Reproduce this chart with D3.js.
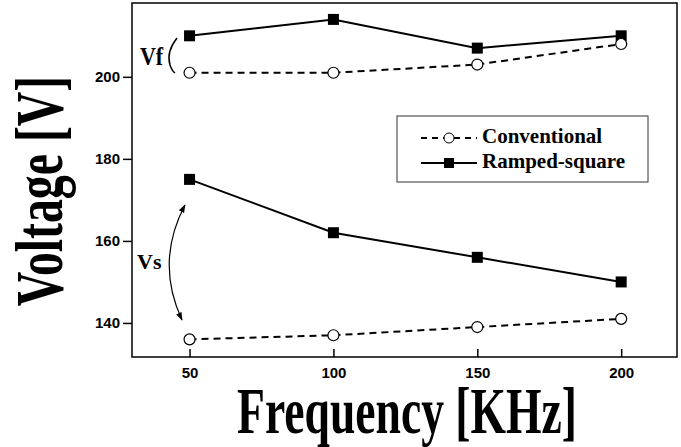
<!DOCTYPE html>
<html>
<head>
<meta charset="utf-8">
<script src="https://cdn.jsdelivr.net/npm/d3@7"></script>
<style>
  body { margin: 0; background: #fff; }
  svg { display: block; }
</style>
</head>
<body>
<div id="chart"></div>
<script>
// data
var freqs  = [50, 100, 150, 200];
var convVf = [201, 201, 203, 208];
var rampVf = [210, 214, 207, 210];
var convVs = [136, 137, 139, 141];
var rampVs = [175, 162, 156, 150];
var xTicks = [50, 100, 150, 200];
var yTicks = [140, 160, 180, 200];

var W = 681, H = 447;
var margin = {top: 3, right: 4, bottom: 90, left: 132};

var svg = d3.select('#chart').append('svg')
    .attr('width', W)
    .attr('height', H);

var x = d3.scaleLinear().domain([30, 219.4]).range([margin.left, W - margin.right]);
var y = d3.scaleLinear().domain([131.7, 218]).range([H - margin.bottom, margin.top]);

var tickFont = 'Liberation Sans, Arial, sans-serif';
var serif = 'Liberation Serif, Times New Roman, serif';

// axes
var gx = svg.append('g')
    .attr('transform', 'translate(0,' + y.range()[0] + ')')
    .call(d3.axisBottom(x).tickValues(xTicks).tickSize(-8).tickPadding(10));
var gy = svg.append('g')
    .attr('transform', 'translate(' + x.range()[0] + ',0)')
    .call(d3.axisLeft(y).tickValues(yTicks).tickSize(9).tickPadding(3));

[gx, gy].forEach(function(g){
    g.select('.domain').remove();
    g.selectAll('line').attr('stroke', '#000').attr('stroke-width', 1.5);
    g.selectAll('text')
        .attr('fill', '#000')
        .style('font-family', tickFont)
        .style('font-weight', 'bold')
        .style('font-size', '15px');
});

// frame
svg.append('rect')
    .attr('x', x.range()[0])
    .attr('y', y.range()[1])
    .attr('width', x.range()[1] - x.range()[0])
    .attr('height', y.range()[0] - y.range()[1])
    .attr('fill', 'none')
    .attr('stroke', '#000')
    .attr('stroke-width', 1.5);

// series
var series = [
    {vals: rampVf, dash: null, mark: 'square'},
    {vals: convVf, dash: '7,5', mark: 'circle'},
    {vals: rampVs, dash: null, mark: 'square'},
    {vals: convVs, dash: '7,5', mark: 'circle'}
];

var line = d3.line()
    .x(function(d){ return x(d.f); })
    .y(function(d){ return y(d.v); });

series.forEach(function(s){
    var pts = freqs.map(function(f, i){ return {f: f, v: s.vals[i]}; });
    svg.append('path')
        .datum(pts)
        .attr('d', line)
        .attr('fill', 'none')
        .attr('stroke', '#000')
        .attr('stroke-width', 2)
        .attr('stroke-dasharray', s.dash);
    if (s.mark === 'square') {
        svg.selectAll(null).data(pts).enter().append('rect')
            .attr('x', function(d){ return x(d.f) - 5.5; })
            .attr('y', function(d){ return y(d.v) - 5.5; })
            .attr('width', 11).attr('height', 11)
            .attr('fill', '#000');
    } else {
        svg.selectAll(null).data(pts).enter().append('circle')
            .attr('cx', function(d){ return x(d.f); })
            .attr('cy', function(d){ return y(d.v); })
            .attr('r', 5.5)
            .attr('fill', '#fff')
            .attr('stroke', '#000')
            .attr('stroke-width', 1.2);
    }
});

// legend
var leg = svg.append('g').attr('transform', 'translate(397,116)');
leg.append('rect')
    .attr('width', 251).attr('height', 66)
    .attr('fill', '#fff')
    .attr('stroke', '#333')
    .attr('stroke-width', 1);
var legItems = [
    {label: 'Conventional', dash: '6,5', mark: 'circle', cy: 22},
    {label: 'Ramped-square', dash: null, mark: 'square', cy: 47}
];
legItems.forEach(function(it){
    leg.append('line')
        .attr('x1', 24).attr('x2', 80)
        .attr('y1', it.cy).attr('y2', it.cy)
        .attr('stroke', '#000')
        .attr('stroke-width', 2)
        .attr('stroke-dasharray', it.dash);
    if (it.mark === 'circle') {
        leg.append('circle').attr('cx', 52).attr('cy', it.cy).attr('r', 5)
            .attr('fill', '#fff').attr('stroke', '#000').attr('stroke-width', 1);
    } else {
        leg.append('rect').attr('x', 47).attr('y', it.cy - 5)
            .attr('width', 10).attr('height', 10).attr('fill', '#000');
    }
    leg.append('text')
        .attr('x', 85).attr('y', it.cy + 5)
        .style('font-family', serif)
        .style('font-weight', 'bold')
        .style('font-size', '21px')
        .text(it.label);
});

// annotations
svg.append('text')
    .attr('x', 140).attr('y', 64)
    .attr('transform', 'translate(0,-10) scale(1,1.15) translate(0,' + (10 - 64 * 0.15 / 1.15) + ')')
    .style('font-family', serif).style('font-weight', 'bold').style('font-size', '22px')
    .text('Vf');
svg.append('path')
    .attr('d', 'M177,38 Q166,52 170,65 Q172,71 175,73')
    .attr('fill', 'none').attr('stroke', '#000').attr('stroke-width', 1.5);

svg.append('text')
    .attr('x', 137).attr('y', 269)
    .style('font-family', serif).style('font-weight', 'bold').style('font-size', '22px')
    .text('Vs');

var defs = svg.append('defs');
defs.append('marker')
    .attr('id', 'ah')
    .attr('viewBox', '0 0 10 10')
    .attr('refX', 9).attr('refY', 5)
    .attr('markerWidth', 7).attr('markerHeight', 7)
    .attr('orient', 'auto-start-reverse')
    .append('path').attr('d', 'M0,1.5 L10,5 L0,8.5 Z').attr('fill', '#000');
svg.append('path')
    .attr('d', 'M185,205 Q155,262 182,320')
    .attr('fill', 'none').attr('stroke', '#000').attr('stroke-width', 1.2)
    .attr('marker-start', 'url(#ah)')
    .attr('marker-end', 'url(#ah)');

// axis titles (tall, condensed bold serif)
svg.append('text')
    .attr('transform', 'translate(407,433) scale(1,1.42)')
    .attr('text-anchor', 'middle')
    .style('font-family', serif).style('font-weight', 'bold').style('font-size', '45.6px')
    .text('Frequency [KHz]');
svg.append('text')
    .attr('transform', 'translate(62,191) rotate(-90) scale(1,1.42)')
    .attr('text-anchor', 'middle')
    .style('font-family', serif).style('font-weight', 'bold').style('font-size', '47.8px')
    .text('Voltage [V]');
</script>
</body>
</html>
